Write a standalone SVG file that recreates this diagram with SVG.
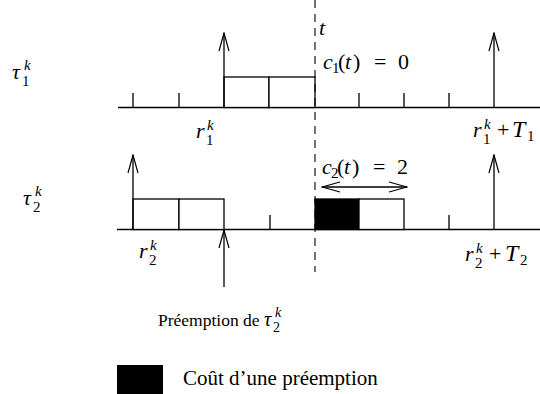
<svg xmlns="http://www.w3.org/2000/svg" width="540" height="394" viewBox="0 0 540 394">
<style>
.ln{stroke:#000;stroke-width:1.3;fill:none}
.bx{stroke:#000;stroke-width:1.3;fill:#fff}
text{font-family:"Liberation Serif","DejaVu Serif",serif}
.m{font-size:22px;font-style:italic}
.r{font-size:22px;font-style:normal}
.s{font-size:15px;font-style:normal}
.k{font-size:15px;font-style:italic}
.t{font-size:17.5px}
.lg{font-size:21px}
</style>
<defs>
<marker id="ah" viewBox="0 0 20 12" refX="19" refY="6" markerWidth="20" markerHeight="12" markerUnits="userSpaceOnUse" orient="auto-start-reverse">
<path d="M1,1 L19,6 L1,11" fill="none" stroke="#000" stroke-width="1.2"/>
</marker>
</defs>
<g id="axes">
<line class="ln" x1="118" y1="107.5" x2="540" y2="107.5"/>
<line class="ln" x1="117" y1="229.5" x2="540" y2="229.5"/>
<path class="ln" d="M133,107.5V93 M179,107.5V93 M359,107.5V93 M404,107.5V93 M449,107.5V93 M270,229.5V215 M449,229.5V215"/>
</g>
<g id="task1">
<rect class="bx" x="224" y="77" width="45" height="30.5"/>
<rect class="bx" x="269" y="77" width="46" height="30.5"/>
</g>
<g id="task2">
<rect class="bx" x="133" y="199" width="46" height="30.5"/>
<rect class="bx" x="179" y="199" width="45" height="30.5"/>
<rect x="315" y="199" width="44" height="30.5" fill="#000" stroke="#000" stroke-width="1.3"/>
<rect class="bx" x="359" y="199" width="45" height="30.5"/>
</g>
<g id="connectors">
<line class="ln" x1="224" y1="107.5" x2="224" y2="33" marker-end="url(#ah)"/>
<line class="ln" x1="494" y1="107.5" x2="494" y2="33" marker-end="url(#ah)"/>
<line class="ln" x1="133" y1="229.5" x2="133" y2="155" marker-end="url(#ah)"/>
<line class="ln" x1="494" y1="229.5" x2="494" y2="155" marker-end="url(#ah)"/>
<line class="ln" x1="224" y1="287" x2="224" y2="230" marker-end="url(#ah)"/>
<line class="ln" x1="322" y1="187" x2="407" y2="187" marker-start="url(#ah)" marker-end="url(#ah)"/>
<line x1="315" y1="0" x2="315" y2="272" stroke="#000" stroke-width="1.1" stroke-dasharray="8,6"/>
</g>
<g id="labels">
<text><tspan class="m" x="12" y="79">τ</tspan><tspan class="s" x="22" y="86">1</tspan><tspan class="k" x="24" y="70">k</tspan></text>
<text><tspan class="m" x="23" y="205">τ</tspan><tspan class="s" x="33" y="212">2</tspan><tspan class="k" x="35" y="196">k</tspan></text>
<text class="m" x="319" y="35">t</text>
<text><tspan class="m" x="323" y="69">c</tspan><tspan class="s" x="332" y="73">1</tspan><tspan class="r" x="338" y="69">(</tspan><tspan class="m" x="345" y="69">t</tspan><tspan class="r" x="353" y="69">)</tspan><tspan class="r" x="374" y="69">=</tspan><tspan class="r" x="398" y="69">0</tspan></text>
<text><tspan class="m" x="322" y="174">c</tspan><tspan class="s" x="331" y="178">2</tspan><tspan class="r" x="337" y="174">(</tspan><tspan class="m" x="344" y="174">t</tspan><tspan class="r" x="352" y="174">)</tspan><tspan class="r" x="373" y="174">=</tspan><tspan class="r" x="397" y="174">2</tspan></text>
<text><tspan class="m" x="196" y="138">r</tspan><tspan class="s" x="206" y="145">1</tspan><tspan class="k" x="207" y="130">k</tspan></text>
<text><tspan class="m" x="473" y="137">r</tspan><tspan class="s" x="483" y="144">1</tspan><tspan class="k" x="484" y="129">k</tspan><tspan class="r" x="497" y="137">+</tspan><tspan class="m" x="512" y="137" style="font-size:24px">T</tspan><tspan class="s" x="527" y="141">1</tspan></text>
<text><tspan class="m" x="139" y="258">r</tspan><tspan class="s" x="149" y="265">2</tspan><tspan class="k" x="150" y="250">k</tspan></text>
<text><tspan class="m" x="465" y="261">r</tspan><tspan class="s" x="475" y="268">2</tspan><tspan class="k" x="476" y="253">k</tspan><tspan class="r" x="489" y="261">+</tspan><tspan class="m" x="505" y="261" style="font-size:24px">T</tspan><tspan class="s" x="520" y="265">2</tspan></text>
<text><tspan class="t" x="158" y="326">Préemption de</tspan><tspan class="m" x="264" y="326" style="font-size:20px">τ</tspan><tspan class="s" x="273" y="332" style="font-size:14px">2</tspan><tspan class="k" x="275" y="317" style="font-size:14px">k</tspan></text>
</g>
<g id="legend">
<rect x="117" y="365" width="46" height="29" fill="#000"/>
<text class="lg" x="183" y="385">Coût d’une préemption</text>
</g>
</svg>
